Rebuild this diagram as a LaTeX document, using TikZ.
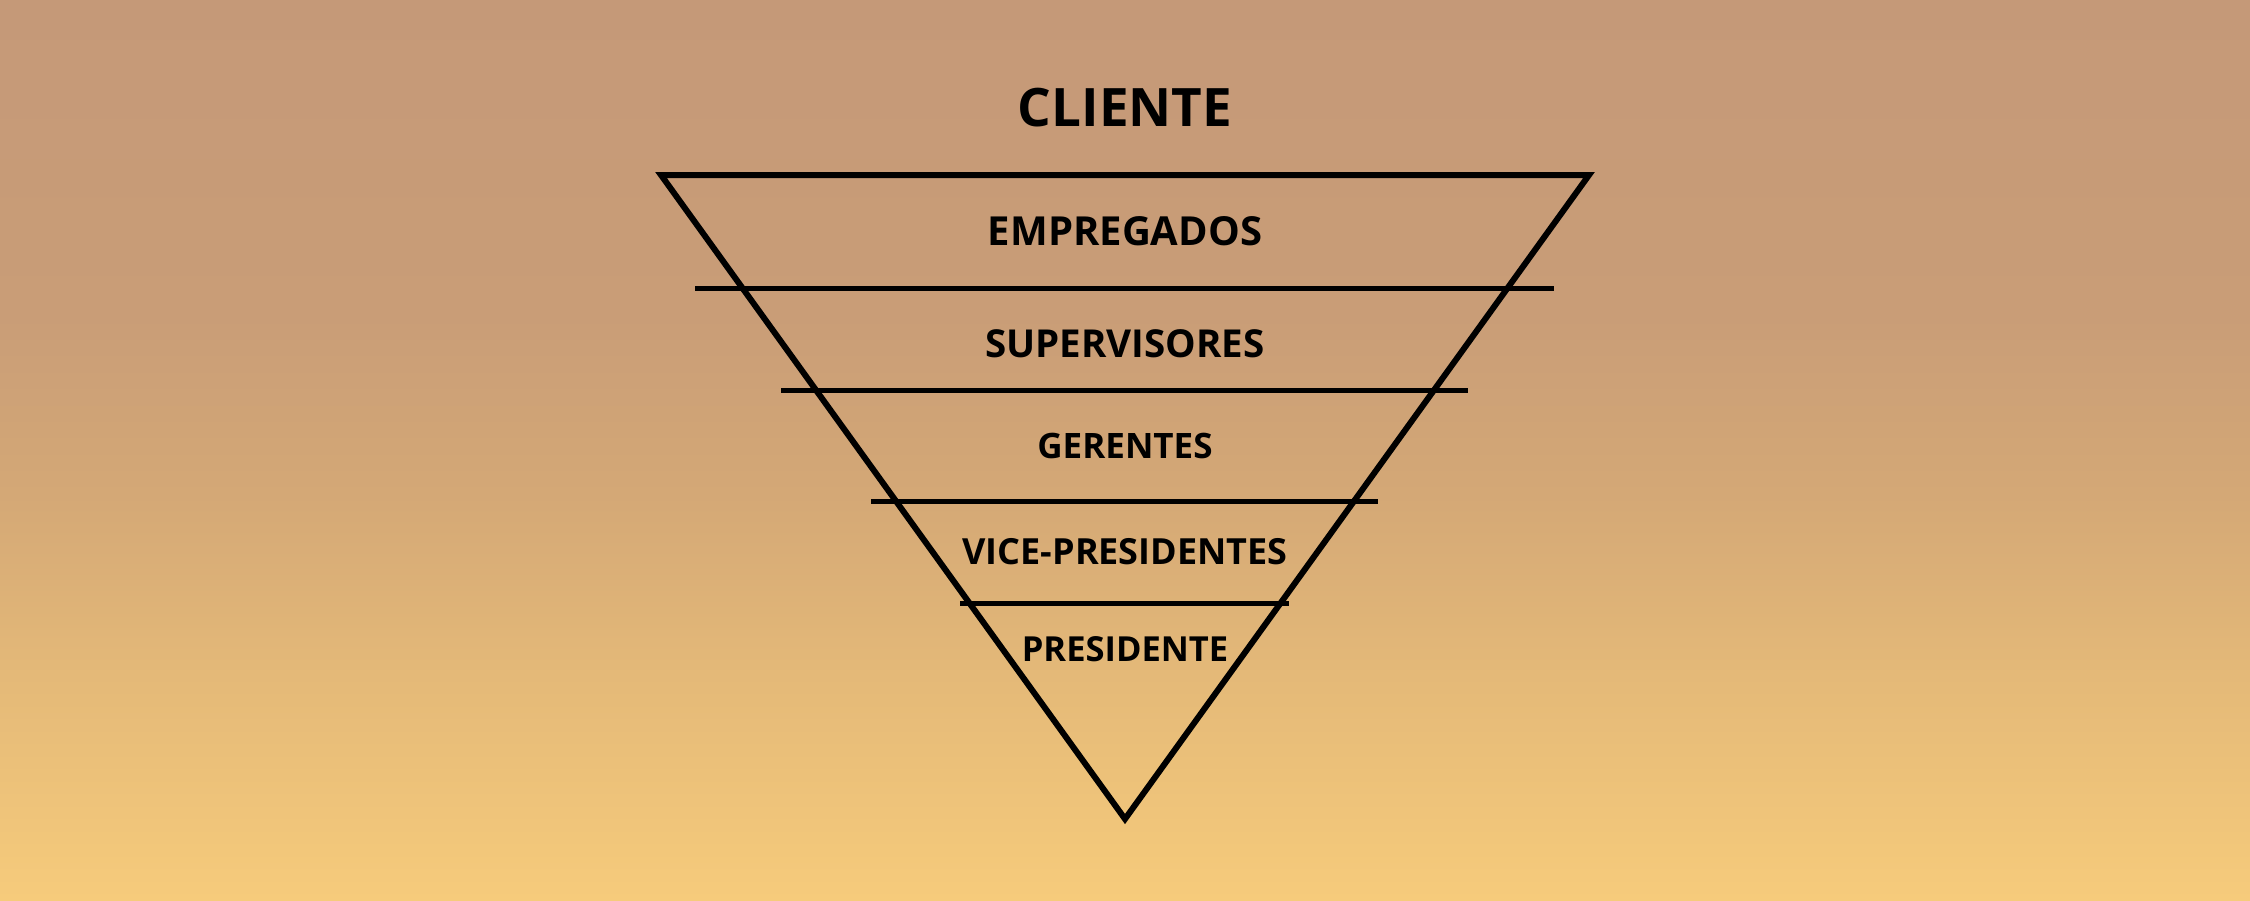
\documentclass[tikz,border=0pt]{standalone}
\usepackage{fontspec}
\setmainfont{Open Sans}
\usepackage{tikz}

\definecolor{skytop}{RGB}{197,153,120}
\definecolor{skyup}{RGB}{201,157,119}
\definecolor{skymid}{RGB}{212,168,118}
\definecolor{skylow}{RGB}{228,185,120}
\definecolor{skybot}{RGB}{246,203,123}

%background gradient, the path is fitted to 25bp (bottom) .. 75bp (top)
\pgfdeclareverticalshading{sky}{100bp}{color(0bp)=(skybot); color(25bp)=(skybot); color(37.5bp)=(skylow); color(47.5bp)=(skymid); color(57.5bp)=(skyup); color(75bp)=(skytop); color(100bp)=(skytop)}

\tikzset{
    layer/.style={line width=5},
    tag/.style={inner sep=0pt, font=\bfseries}
}

\begin{document}
\begin{tikzpicture}[x=1pt,y=1pt,yscale=-1]
    %set diagram to the size of the reference
    \useasboundingbox (0,0) rectangle (2250,900);

    %Shape: Background [id:bg]
    \shade [shading=sky] (0,0) rectangle (2250,900);

    %Corners of the triangle
    \coordinate (tl) at (661,175);
    \coordinate (tr) at (1589,175);
    \coordinate (apex) at (1125,819);

    %Shape: Triangle [id:tri]
    \draw [line width=6, line join=miter] (tl) -- (tr) -- (apex) -- cycle ;

    %Straight Lines [id:layers]
    \coordinate (l1a) at (695,288);  \coordinate (l1b) at (1554,288);
    \coordinate (l2a) at (781,390);  \coordinate (l2b) at (1468,390);
    \coordinate (l3a) at (871,501);  \coordinate (l3b) at (1378,501);
    \coordinate (l4a) at (960,603);  \coordinate (l4b) at (1289,603);
    \draw [layer] (l1a) -- (l1b) ;
    \draw [layer] (l2a) -- (l2b) ;
    \draw [layer] (l3a) -- (l3b) ;
    \draw [layer] (l4a) -- (l4b) ;

    % Text Node
    \node (cliente) at (1125,108) [tag] {\fontsize{53}{60}\selectfont CLIENTE};
    % Text Node
    \node (empregados) at (1125,231) [tag] {\fontsize{40}{48}\selectfont EMPREGADOS};
    % Text Node
    \node (supervisores) at (1125,344) [tag] {\fontsize{38.5}{45}\selectfont SUPERVISORES};
    % Text Node
    \node (gerentes) at (1125,446) [tag] {\fontsize{35}{42}\selectfont GERENTES};
    % Text Node
    \node (vicepres) at (1125,552) [tag] {\fontsize{36}{43}\selectfont VICE-PRESIDENTES};
    % Text Node
    \node (presidente) at (1125,649) [tag] {\fontsize{34.5}{41}\selectfont PRESIDENTE};

\end{tikzpicture}
\end{document}
